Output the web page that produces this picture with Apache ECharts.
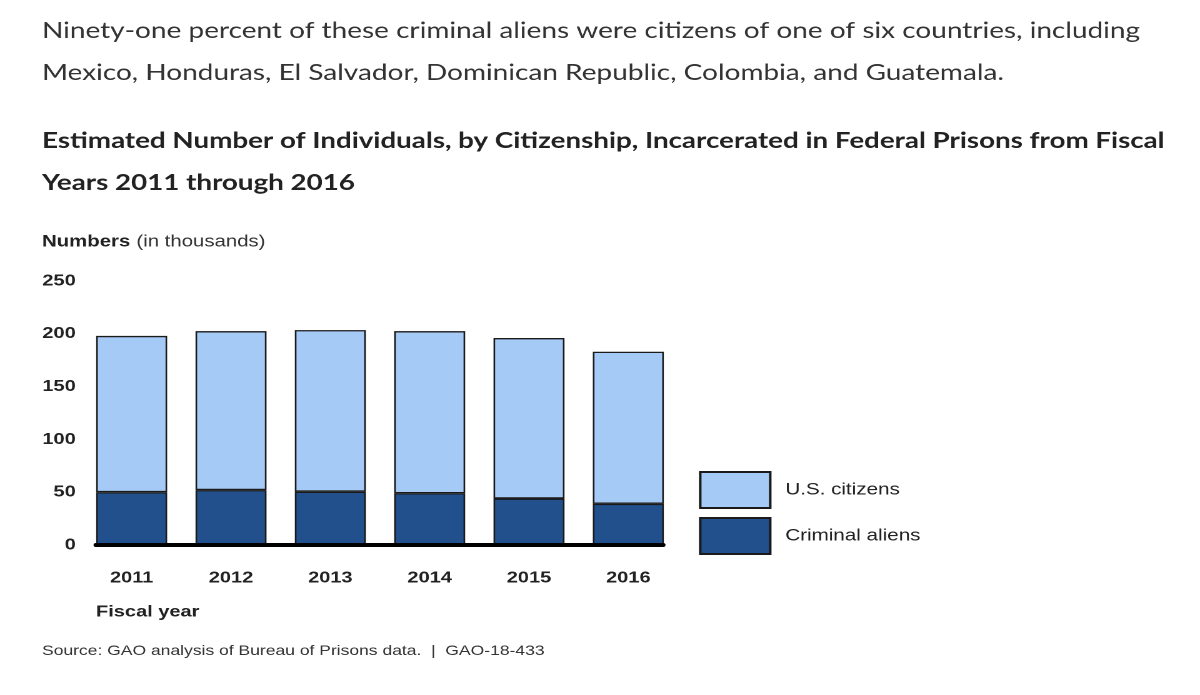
<!DOCTYPE html>
<html>
<head>
<meta charset="utf-8">
<script src="https://cdn.jsdelivr.net/npm/echarts@6/dist/echarts.min.js"></script>
<style>
  html, body { margin: 0; padding: 0; background: #fff; overflow: hidden; }
  /* the reference is a screenshot stretched sideways, so the chart is drawn
     narrower and widened the same way */
  #chart { width: 960px; height: 695px; transform: scaleX(1.25); transform-origin: 0 0; }
</style>
</head>
<body>
<div id="chart"></div>
<script>
var years = ['2011', '2012', '2013', '2014', '2015', '2016'];
// values in thousands
var criminalAliens = [50, 52, 50.5, 49, 44, 39];
var usCitizens = [148, 150.5, 153, 153.5, 152, 144];
var yTicks = { min: 0, max: 250, step: 50 };

var paragraph = 'Ninety-one percent of these criminal aliens were citizens of one of six countries, including\n' +
  'Mexico, Honduras, El Salvador, Dominican Republic, Colombia, and Guatemala.';
var heading = 'Estimated Number of Individuals, by Citizenship, Incarcerated in Federal Prisons from Fiscal\n' +
  'Years 2011 through 2016';

var arial = '"Liberation Sans", Arial, sans-serif';
var lato = 'Lato, "Noto Sans", sans-serif';

var myChart = echarts.init(document.getElementById('chart'), null, { devicePixelRatio: 2 });
var option = {
  backgroundColor: '#fff',
  animation: false,
  title: [
    {
      text: paragraph, left: 33.6, top: 10, padding: 0,
      textStyle: { fontFamily: lato, fontSize: 22.4, fontWeight: 'normal', color: '#333', lineHeight: 42 }
    },
    {
      text: heading, left: 33.6, top: 120, padding: 0,
      textStyle: { fontFamily: lato, fontSize: 22.2, fontWeight: 'bold', color: '#222', lineHeight: 42 }
    },
    {
      text: '{b|Numbers} {n|(in thousands)}', left: 33.6, top: 232, padding: 0,
      textStyle: {
        rich: {
          b: { fontFamily: arial, fontSize: 16.3, fontWeight: 'bold', color: '#222', lineHeight: 20 },
          n: { fontFamily: arial, fontSize: 16.3, fontWeight: 'normal', color: '#333', lineHeight: 20 }
        }
      }
    },
    {
      text: 'Fiscal year', left: 76.8, top: 602, padding: 0,
      textStyle: { fontFamily: arial, fontSize: 16, fontWeight: 'bold', color: '#222', lineHeight: 20 }
    },
    {
      text: 'Source: GAO analysis of Bureau of Prisons data.  |  GAO-18-433', left: 33.6, top: 642, padding: 0,
      textStyle: { fontFamily: arial, fontSize: 14, fontWeight: 'normal', color: '#333', lineHeight: 18 }
    }
  ],
  legend: {
    orient: 'vertical',
    left: 559.2, top: 471, padding: 0,
    itemWidth: 56, itemHeight: 36, itemGap: 8,
    icon: 'rect',
    data: ['U.S. citizens', 'Criminal aliens'],
    textStyle: { fontFamily: arial, fontSize: 16.5, color: '#222', padding: [0, 0, 0, 7] }
  },
  grid: [
    { left: 65.6, width: 476.8, top: 281, height: 264 },
    { left: 76.8, width: 453.6, top: 281, height: 264 }
  ],
  xAxis: [
    {
      type: 'category', gridIndex: 0, data: years,
      axisLine: { show: false }, axisTick: { show: false },
      axisLabel: { margin: 25, fontFamily: arial, fontSize: 16, fontWeight: 'bold', color: '#222' }
    },
    {
      type: 'value', gridIndex: 1, z: 5,
      axisLine: { show: true, onZero: false, lineStyle: { color: '#000', width: 4 } },
      axisTick: { show: false }, axisLabel: { show: false }, splitLine: { show: false }
    }
  ],
  yAxis: [
    {
      type: 'value', gridIndex: 0,
      min: yTicks.min, max: yTicks.max, interval: yTicks.step,
      axisLine: { show: false }, axisTick: { show: false }, splitLine: { show: false },
      axisLabel: { margin: 5, fontFamily: arial, fontSize: 16, fontWeight: 'bold', color: '#222' }
    },
    { type: 'value', gridIndex: 1, show: false }
  ],
  series: [
    {
      name: 'Criminal aliens', type: 'bar', stack: 'total', barWidth: 56.8,
      itemStyle: { color: '#21508d', borderColor: '#1a1a1a', borderWidth: 1.3 },
      data: criminalAliens
    },
    {
      name: 'U.S. citizens', type: 'bar', stack: 'total', barWidth: 56.8,
      itemStyle: { color: '#a6caf6', borderColor: '#1a1a1a', borderWidth: 1.3 },
      data: usCitizens
    }
  ]
};
myChart.setOption(option);
</script>
</body>
</html>
